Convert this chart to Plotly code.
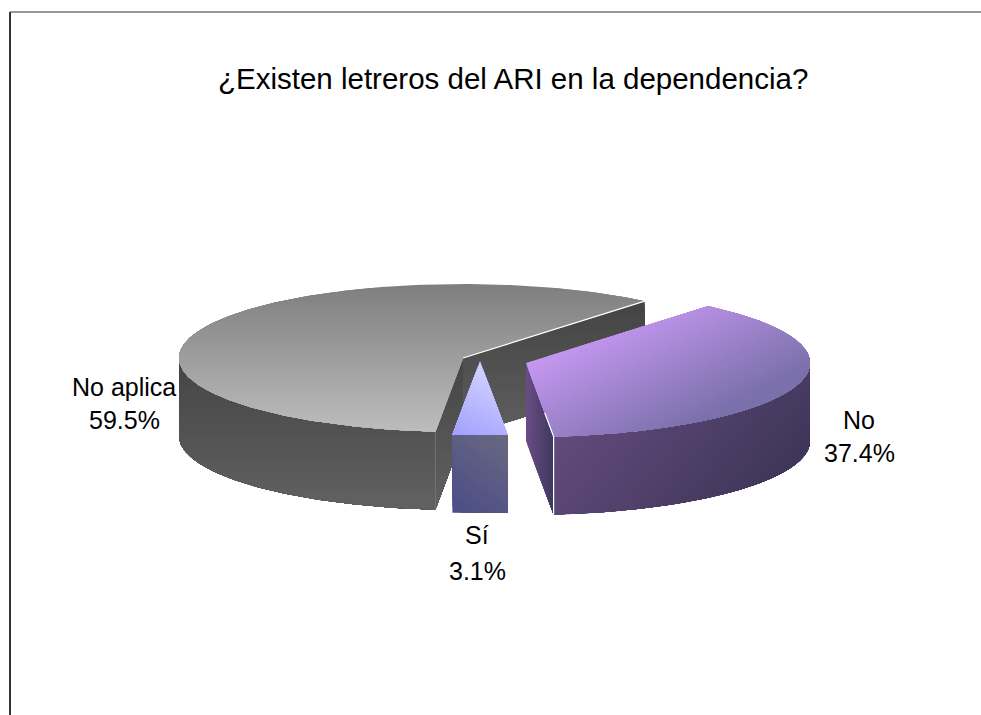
import numpy as np
import plotly.graph_objects as go

# ---- data ----
categories = ["No aplica", "No", "Sí"]
values = [59.5, 37.4, 3.1]
title_text = "¿Existen letreros del ARI en la dependencia?"

# ---- pie drawing parameters ----
RX, RY, DEPTH = 284, 74, 78
SI_MID_DEG = 270.0
centers = {"No aplica": (463, 358), "No": (526, 363), "Sí": (480, 361)}


def hex_rgb(c):
    return np.array([int(c[i:i + 2], 16) for i in (1, 3, 5)], float)


def clip(poly, u, level):
    """Keep the part of a polygon with dot(p,u) >= level."""
    out = []
    d = poly @ u - level
    n = len(poly)
    for i in range(n):
        a, b, da, db = poly[i], poly[(i + 1) % n], d[i], d[(i + 1) % n]
        if da >= 0:
            out.append(a)
        if da * db < 0:
            out.append(a + (b - a) * da / (da - db))
    return np.array(out) if len(out) >= 3 else None


fig = go.Figure()


def face(poly, u, d0, d1, c0, c1, steps=36):
    poly = np.asarray(poly, float)
    u = np.asarray(u, float)
    u = u / np.hypot(*u)
    a, b = hex_rgb(c0), hex_rgb(c1)
    for k in range(steps):
        t = k / (steps - 1)
        lev = d0 + (d1 - d0) * t if k else -1e9
        p = clip(poly, u, lev)
        if p is None:
            continue
        col = a + (b - a) * t
        fig.add_trace(go.Scatter(
            x=p[:, 0], y=p[:, 1], mode="lines", fill="toself",
            line=dict(width=0), fillcolor=f"rgb({col[0]:.0f},{col[1]:.0f},{col[2]:.0f})",
            hoverinfo="skip", showlegend=False))


def arc(c, a0, a1, n=160):
    th = np.radians(np.linspace(a0, a1, n))
    return np.c_[c[0] + RX * np.cos(th), c[1] - RY * np.sin(th)]


def drop(p):
    return np.asarray(p, float) + [0, DEPTH]


def line(pts, color="white", width=1.2):
    pts = np.asarray(pts, float)
    fig.add_trace(go.Scatter(x=pts[:, 0], y=pts[:, 1], mode="lines",
                             line=dict(color=color, width=width),
                             hoverinfo="skip", showlegend=False))


# angles follow the values, clockwise, with the "Sí" slice centred at the front
sweep = {c: v / sum(values) * 360 for c, v in zip(categories, values)}
si0 = SI_MID_DEG + sweep["Sí"] / 2          # start of "Sí" going clockwise
si1 = SI_MID_DEG - sweep["Sí"] / 2
g0, g1 = si1, si1 - sweep["No aplica"]
n0, n1 = g1, g1 - sweep["No"]

# --- "No aplica" ---
c = np.array(centers["No aplica"], float)
end_g = arc(c, g1, g1, 1)
cut_g = arc(c, g0, g0, 1)
inner = np.vstack([[c], end_g, drop(end_g), drop([c])])
face(inner, (0, 1), 300, 430, "#444444", "#5e5e5e")
wall = arc(c, 180, g0)
face(np.vstack([wall, drop(wall)[::-1]]), (0, 1), 360, 510, "#454545", "#626262")
cut = np.vstack([[c], cut_g, drop(cut_g), drop([c])])
face(cut, (0, 1), 360, 510, "#464646", "#626262")
line(np.vstack([cut_g, drop(cut_g)]), "#747474", 1)
top = np.vstack([[c], arc(c, g0, g1, 320)])
face(top, (0, 1), 284, 432, "#7f7f7f", "#bebebe")
line(np.vstack([[c], end_g]))

# --- "No" ---
c = np.array(centers["No"], float)
end_n = arc(c, n1, n1, 1)
cutf = np.vstack([[c], end_n, drop(end_n), drop([c])])
face(cutf, (1, 0), 526, 552, "#694c84", "#3d3a60", 16)
wall = arc(c, 0, n1)
face(np.vstack([wall, drop(wall)[::-1]]), (1, 0.85), 700, 930, "#624b7c", "#3a3355")
top = np.vstack([[c], arc(c, n0, n1)])
face(top, (0.45, 0.9), 560, 690, "#c497f0", "#7a70aa")
line(np.vstack([[c + (end_n[0] - c) * 0.68], end_n, drop(end_n)]))

# --- "Sí" ---
c = np.array(centers["Sí"], float)
rim = arc(c, si0, si1, 12)
front = np.vstack([rim, drop(rim)[::-1]])
face(front, (0.6, -0.8), -139, -42, "#4c4c88", "#6a6a80", 20)
face(np.vstack([[c], rim]), (-0.45, 0.9), 110, 210, "#d2d2ff", "#8e8eff", 24)

# --- frame of the picture ---
fig.add_shape(type="line", x0=10, x1=981, y0=12, y1=12, line=dict(color="#333333", width=1.2))
fig.add_shape(type="line", x0=10, x1=10, y0=12, y1=715, line=dict(color="#333333", width=2))

FONT = "Liberation Sans, Arial, sans-serif"
label_pos = {"No aplica": (124, 387, 420), "No": (859, 420, 453), "Sí": (477, 535, 571)}
for cat, val in zip(categories, values):
    x, y_cat, y_val = label_pos[cat]
    for txt, y in ((cat, y_cat), (f"{val:.1f}%", y_val)):
        fig.add_annotation(x=x, y=y, text=txt, showarrow=False,
                           font=dict(family=FONT, size=25, color="#000000"),
                           xanchor="center", yanchor="middle", align="center")
fig.add_annotation(x=513, y=78, text=title_text, showarrow=False,
                   font=dict(family=FONT, size=29.5, color="#000000"),
                   xanchor="center", yanchor="middle")

fig.update_layout(
    width=981, height=715, margin=dict(l=0, r=0, t=0, b=0),
    paper_bgcolor="white", plot_bgcolor="white", showlegend=False,
    xaxis=dict(range=[0, 981], visible=False, fixedrange=True),
    yaxis=dict(range=[715, 0], visible=False, fixedrange=True),
)
fig.write_html("out.html", config={"displayModeBar": False},
               post_script="document.body.style.margin='0';document.body.style.overflow='hidden';")
